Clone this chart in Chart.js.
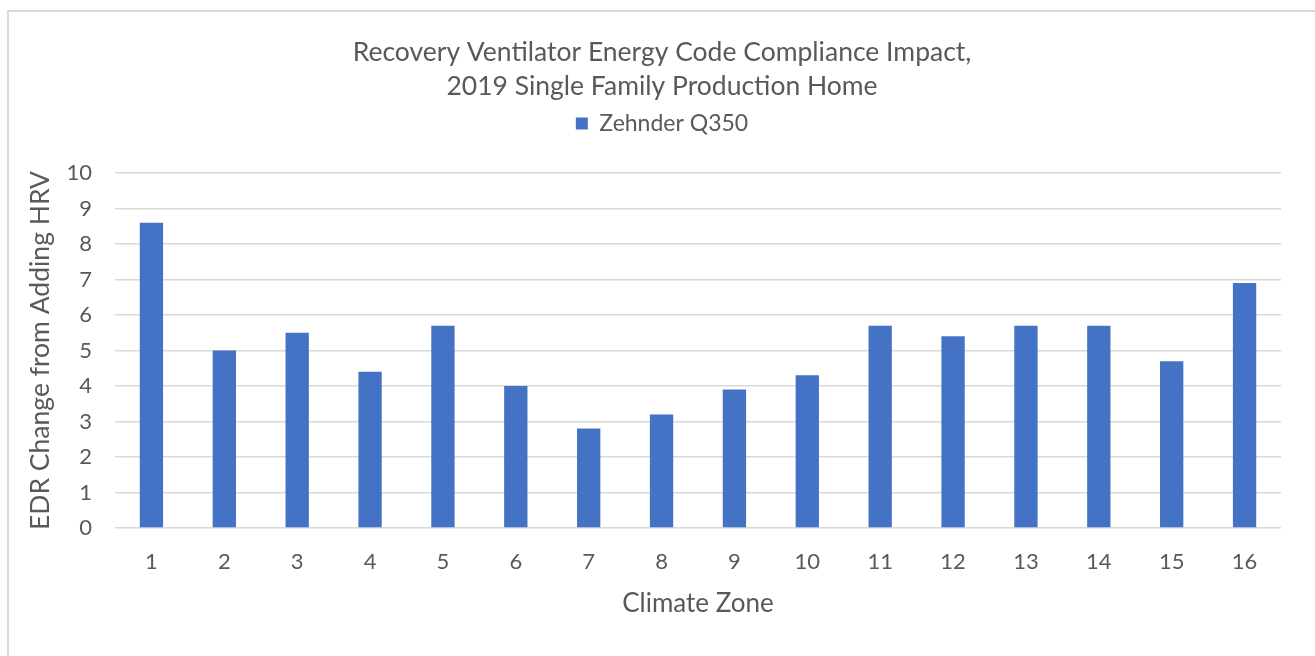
<!DOCTYPE html>
<html>
<head>
<meta charset="utf-8">
<script src="https://cdn.jsdelivr.net/npm/chart.js@4/dist/chart.umd.min.js"></script>
<style>
  html, body { margin: 0; padding: 0; width: 1315px; height: 656px; overflow: hidden; background: #fff; }
  #frame { position: absolute; left: 7px; top: 10px; width: 1310px; height: 660px; border: 2px solid #d9d9d9; box-sizing: border-box; }
  #wrap { position: absolute; left: 7px; top: 10px; width: 1310px; height: 646px; }
</style>
</head>
<body>
<div id="frame"></div>
<div id="wrap"><canvas id="c" width="1310" height="646"></canvas></div>
<script>
const titleLines = ['Recovery Ventilator Energy Code Compliance Impact,', '2019 Single Family Production Home'];
const categories = ['1','2','3','4','5','6','7','8','9','10','11','12','13','14','15','16'];
const seriesName = 'Zehnder Q350';
const values = [8.6, 5.0, 5.5, 4.4, 5.7, 4.0, 2.8, 3.2, 3.9, 4.3, 5.7, 5.4, 5.7, 5.7, 4.7, 6.9];
const yTitle = 'EDR Change from Adding HRV';
const xTitle = 'Climate Zone';
const yMin = 0, yMax = 10, yStep = 1;

const FONT = 'Lato, "Open Sans", sans-serif';
const TXT = '#595959';

const legendGap = {
  id: 'legendGap',
  beforeLayout(chart) {
    const lg = chart.legend;
    if (lg && !lg._gapPatched) {
      const f = lg.fit;
      lg.fit = function () { f.call(this); this.height += 28; };
      lg._gapPatched = true;
    }
  }
};

new Chart(document.getElementById('c'), {
  type: 'bar',
  data: {
    labels: categories,
    datasets: [{
      label: seriesName,
      data: values,
      backgroundColor: '#4472C4',
      borderWidth: 0,
      barPercentage: 0.32,
      categoryPercentage: 1.0
    }]
  },
  plugins: [legendGap],
  options: {
    responsive: false,
    animation: false,
    devicePixelRatio: 1,
    layout: { padding: { left: 36, right: 36, top: 0, bottom: 0 } },
    plugins: {
      title: {
        display: true,
        text: titleLines,
        color: TXT,
        font: { family: FONT, size: 26.5, weight: 'normal', lineHeight: '34px' },
        padding: { top: 25, bottom: 0 }
      },
      legend: {
        display: true,
        labels: {
          color: TXT,
          font: { family: FONT, size: 23 },
          boxWidth: 12, boxHeight: 12,
          padding: 9
        }
      },
      tooltip: { enabled: false }
    },
    scales: {
      x: {
        grid: { display: false, drawTicks: false },
        border: { display: false },
        ticks: { color: TXT, font: { family: FONT, size: 22 }, padding: 21, maxRotation: 0 },
        title: { display: true, text: xTitle, color: TXT, font: { family: FONT, size: 26 }, padding: { top: 0, bottom: 37 } },
        afterFit: (s) => { s.height = 128; }
      },
      y: {
        min: yMin, max: yMax,
        grid: { color: '#d9d9d9', lineWidth: 1.5, drawTicks: false },
        border: { display: false },
        ticks: { stepSize: yStep, color: TXT, font: { family: FONT, size: 22 }, padding: 23 },
        title: { display: true, text: yTitle, color: TXT, font: { family: FONT, size: 26.5 }, padding: { top: -18, bottom: 0 } },
        afterFit: (s) => { s.width = 72; }
      }
    }
  }
});
</script>
</body>
</html>
